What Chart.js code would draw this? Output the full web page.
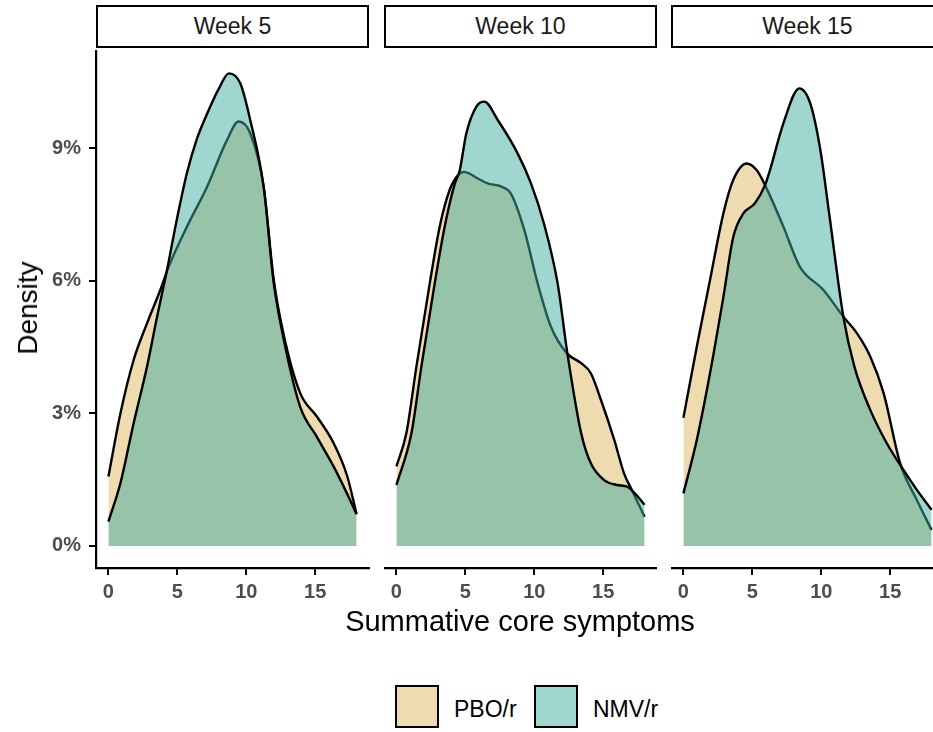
<!DOCTYPE html>
<html>
<head>
<meta charset="utf-8">
<script src="https://cdn.jsdelivr.net/npm/chart.js@4.4.1/dist/chart.umd.min.js"></script>
<style>
  html, body { margin: 0; padding: 0; background: #fff; }
  body { font-family: "Liberation Sans", Arial, sans-serif; }
  #wrap { position: relative; width: 933px; height: 732px; overflow: hidden; background: #fff; }
  .panel { position: absolute; top: 50px; height: 560px; }
  .strip {
    position: absolute; top: 5px; height: 43px; width: 273px; box-sizing: border-box;
    border: 2px solid #000; background: #fff; color: #1a1a1a; font-size: 23px;
    display: flex; align-items: center; justify-content: center;
  }
  .ttl { position: absolute; color: #000; white-space: nowrap; line-height: 1; }
  .key { position: absolute; top: 685px; width: 44px; height: 43px; box-sizing: border-box; border: 2px solid #000; }
  .lab { position: absolute; top: 698px; font-size: 23px; line-height: 1; color: #000; }
</style>
</head>
<body>
<div id="wrap">
  <div class="strip" style="left:96px">Week 5</div>
  <div class="strip" style="left:384px">Week 10</div>
  <div class="strip" style="left:671px">Week 15</div>

  <div class="panel" style="left:0px;width:370px"><canvas id="p1"></canvas></div>
  <div class="panel" style="left:384px;width:273px"><canvas id="p2"></canvas></div>
  <div class="panel" style="left:671px;width:273px"><canvas id="p3"></canvas></div>

  <div class="ttl" style="left:28px;top:308px;font-size:28px;transform:translate(-50%,-50%) rotate(-90deg)">Density</div>
  <div class="ttl" style="left:520px;top:607px;font-size:29px;transform:translateX(-50%)">Summative core symptoms</div>

  <div class="key" style="left:395px;background:rgba(221,185,97,0.5)"></div>
  <div class="lab" style="left:454px">PBO/r</div>
  <div class="key" style="left:534px;background:rgba(65,173,161,0.5)"></div>
  <div class="lab" style="left:593px">NMV/r</div>
</div>

<script>
// valores (x = síntomas, y = densidad en %)
const xTicks = [0, 5, 10, 15];
const yTicks = [0, 3, 6, 9];

const w5PboX = [0, 0.87, 1.83, 2.8, 3.77, 4.37, 5.7, 7.15, 8.6, 9.44, 10.29, 11.26, 11.98, 12.7, 13.91, 15.12, 16.33, 17.3, 18];
const w5PboY = [1.57, 3.0, 4.21, 5.04, 5.8, 6.32, 7.23, 8.13, 9.19, 9.61, 9.34, 8.13, 6.05, 4.8, 3.46, 2.93, 2.33, 1.6, 0.72];
const w5NmvX = [0, 0.87, 1.83, 2.8, 3.53, 4.25, 5.0, 5.7, 6.4, 7.15, 8.0, 8.74, 9.57, 10.29, 11.26, 11.98, 12.7, 13.91, 15.12, 16.33, 17.3, 18];
const w5NmvY = [0.55, 1.42, 2.78, 4.06, 5.19, 6.25, 7.45, 8.45, 9.2, 9.78, 10.35, 10.7, 10.47, 9.64, 8.13, 5.98, 4.7, 3.15, 2.47, 1.8, 1.19, 0.72];

const w10PboX = [0, 0.72, 1.45, 2.42, 3.14, 3.86, 4.47, 4.9, 5.9, 6.62, 7.58, 8.3, 9.28, 10.24, 11.2, 12.37, 13.4, 14.1, 14.83, 15.8, 16.5, 17.1, 18];
const w10PboY = [1.8, 2.55, 4.06, 5.95, 7.23, 8.06, 8.4, 8.47, 8.32, 8.21, 8.14, 7.98, 7.15, 5.95, 4.97, 4.36, 4.14, 3.91, 3.31, 2.4, 1.65, 1.25, 0.66];
const w10NmvX = [0, 1.09, 1.81, 2.78, 3.5, 4.23, 4.59, 5.07, 5.8, 6.38, 7.34, 8.79, 9.76, 10.7, 11.69, 12.4, 13.4, 14.1, 15.07, 16.0, 16.75, 17.5, 18];
const w10NmvY = [1.38, 2.55, 4.06, 5.95, 7.23, 8.2, 8.5, 9.34, 9.95, 10.06, 9.65, 8.89, 8.21, 7.3, 5.95, 4.36, 2.55, 1.87, 1.49, 1.38, 1.34, 1.12, 0.93];

const w15PboX = [0, 0.97, 1.93, 2.9, 3.62, 4.59, 5.31, 5.92, 7.25, 8.45, 10.14, 11.6, 12.58, 13.55, 14.52, 15.72, 16.93, 18];
const w15PboY = [2.9, 4.51, 6.02, 7.53, 8.29, 8.66, 8.51, 8.17, 7.23, 6.32, 5.8, 5.19, 4.82, 4.29, 3.46, 1.87, 1.04, 0.36];
const w15NmvX = [0, 0.97, 1.93, 2.9, 3.62, 4.35, 5.19, 5.92, 6.28, 7.25, 8.41, 9.2, 9.93, 10.6, 11.6, 12.4, 13.55, 14.76, 15.96, 16.93, 18];
const w15NmvY = [1.19, 2.4, 3.91, 5.64, 7.0, 7.53, 7.76, 8.17, 8.51, 9.57, 10.36, 10.02, 8.97, 7.46, 5.19, 4.06, 3.08, 2.32, 1.72, 1.27, 0.82];

const colorPbo = 'rgba(221,185,97,0.5)';
const colorNmv = 'rgba(65,173,161,0.5)';
const tickFont = { family: 'Liberation Sans', size: 20, weight: 'bold' };

function puntos(xs, ys) {
    return xs.map((x, i) => ({ x: x, y: ys[i] }));
}

function serie(label, xs, ys, color, order) {
    return {
        label: label,
        data: puntos(xs, ys),
        backgroundColor: color,
        borderColor: '#000',
        borderWidth: 2.4,
        fill: 'origin',
        pointRadius: 0,
        cubicInterpolationMode: 'monotone',
        order: order
    };
}

function crearPanel(id, pboX, pboY, nmvX, nmvY, conEjeY) {
    const ctx = document.getElementById(id).getContext('2d');
    return new Chart(ctx, {
        type: 'line',
        data: {
            datasets: [
                serie('PBO/r', pboX, pboY, colorPbo, 2),
                serie('NMV/r', nmvX, nmvY, colorNmv, 1)
            ]
        },
        options: {
            responsive: true,
            maintainAspectRatio: false,
            animation: false,
            layout: { padding: { top: 0, right: conEjeY ? 1 : 0, bottom: 0, left: 0 } },
            plugins: { legend: { display: false }, tooltip: { enabled: false } },
            scales: {
                x: {
                    type: 'linear',
                    min: -0.9,
                    max: 18.9,
                    border: { display: true, color: '#000', width: 2.2 },
                    grid: { display: true, drawOnChartArea: false, drawTicks: true, tickLength: 7, color: '#000', lineWidth: 2 },
                    ticks: { color: '#4d4d4d', font: tickFont, padding: 5, maxRotation: 0 },
                    afterBuildTicks: s => { s.ticks = xTicks.map(v => ({ value: v })); },
                    afterFit: s => { s.height = 42; s.paddingLeft = 0; s.paddingRight = 0; }
                },
                y: {
                    display: conEjeY,
                    min: -0.5,
                    max: 11.23,
                    border: { display: true, color: '#000', width: 2.2 },
                    grid: { display: true, drawOnChartArea: false, drawTicks: true, tickLength: 7, color: '#000', lineWidth: 2 },
                    ticks: { color: '#4d4d4d', font: tickFont, padding: 8, callback: v => v + '%' },
                    afterBuildTicks: s => { s.ticks = yTicks.map(v => ({ value: v })); },
                    afterFit: s => {
                        s.width = conEjeY ? 96 : 0;
                        s.paddingTop = 0;
                        s.paddingBottom = 0;
                    }
                }
            }
        }
    });
}

crearPanel('p1', w5PboX, w5PboY, w5NmvX, w5NmvY, true);
crearPanel('p2', w10PboX, w10PboY, w10NmvX, w10NmvY, false);
crearPanel('p3', w15PboX, w15PboY, w15NmvX, w15NmvY, false);
</script>
</body>
</html>
